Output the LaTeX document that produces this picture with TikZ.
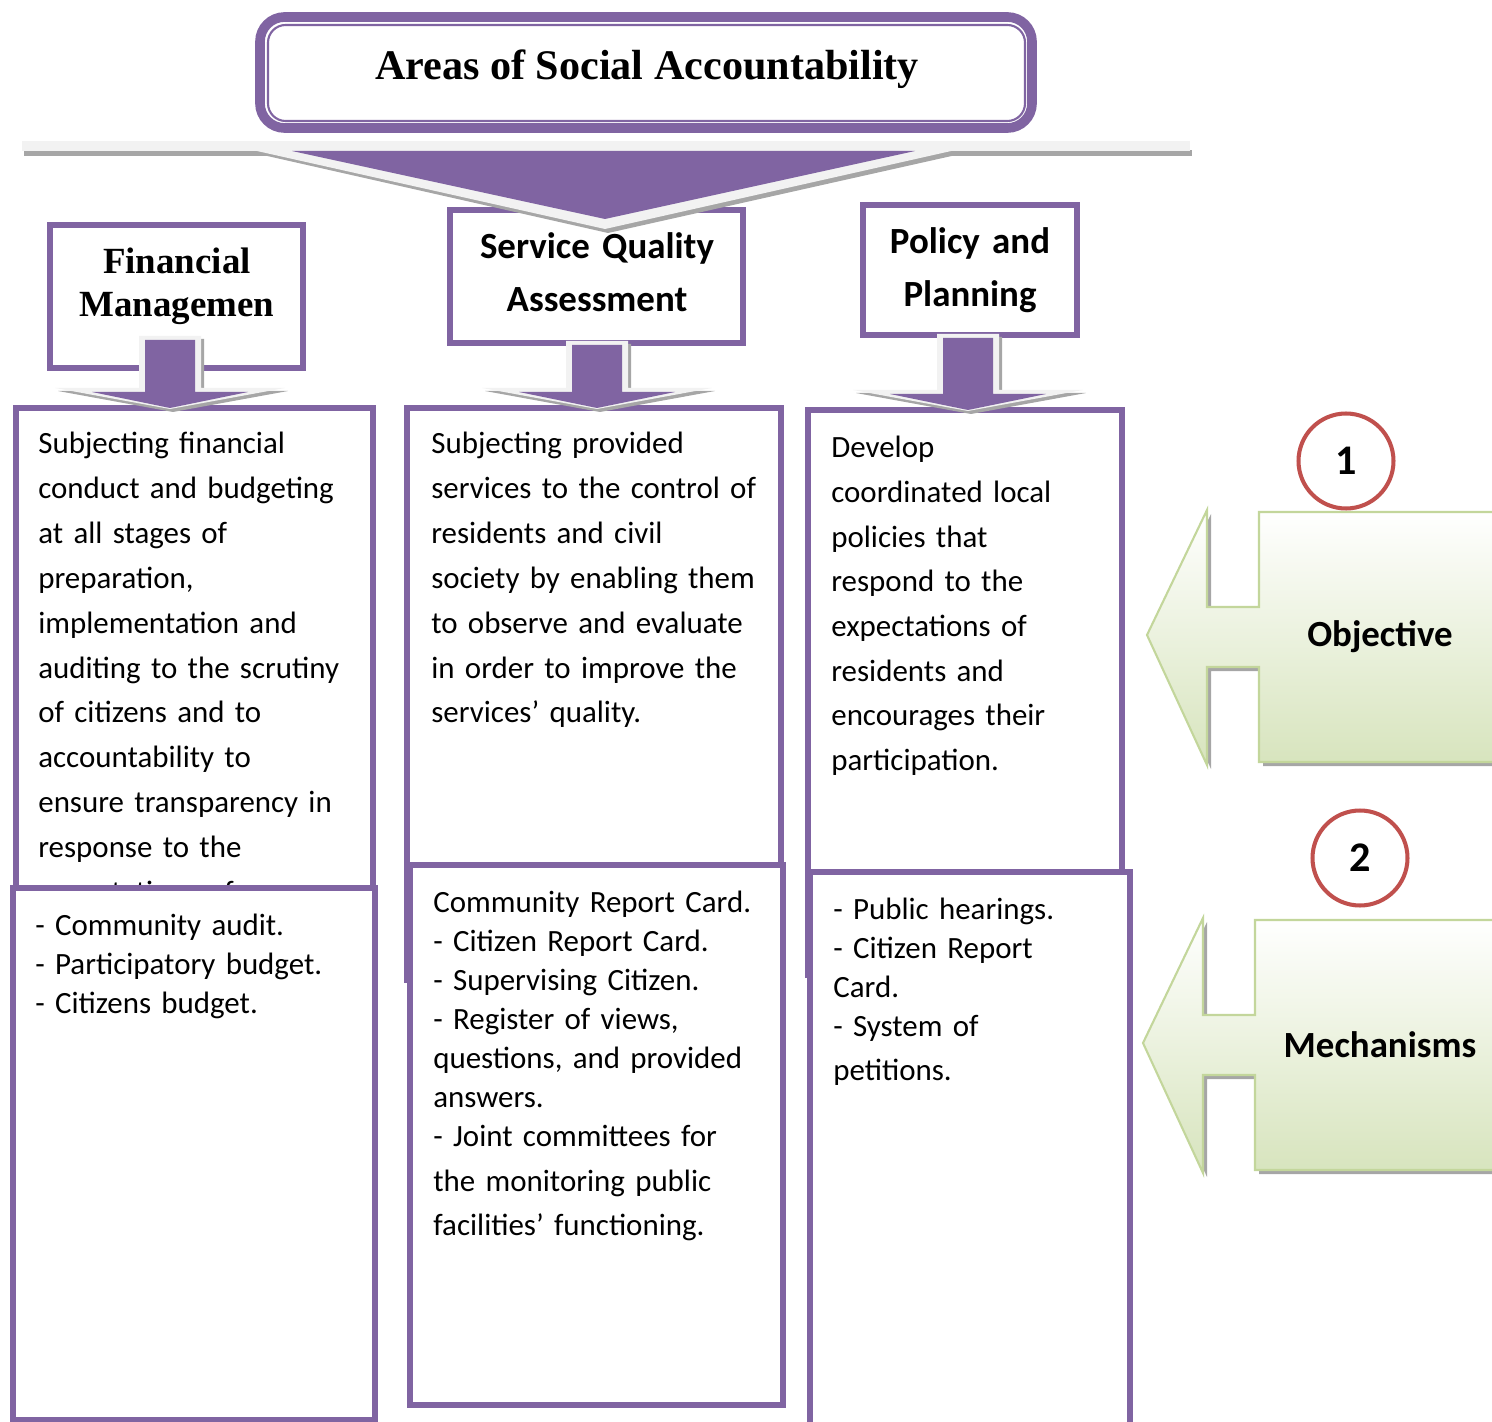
\documentclass[tikz,border=0pt]{standalone}
\usepackage{fontspec}
\setmainfont{Liberation Serif}
\newfontfamily\carlito{Carlito}
\usetikzlibrary{fit}

\definecolor{sapurple}{HTML}{8064A2}
\definecolor{sared}{HTML}{C0504D}
\definecolor{sagreen}{HTML}{C3D69B}
\definecolor{sagreenfill}{HTML}{D7E4BD}
\definecolor{sagray}{HTML}{F2F2F2}
\definecolor{sashadow}{HTML}{A6A6A6}

\begin{document}
\begin{tikzpicture}[x=0.02cm, y=-0.02cm,
  areabox/.style={draw=sapurple, line width=3pt, fill=white, inner sep=0pt},
  headserif/.style={font=\bfseries\fontsize{21}{24.4}\selectfont, text width=6cm, align=center, anchor=base, inner sep=0pt},
  headsans/.style={font=\carlito\bfseries\fontsize{21}{30}\selectfont, text width=6cm, align=center, anchor=base, inner sep=0pt},
  bodytxt/.style={font=\carlito\fontsize{17.6}{25.5}\selectfont, text width=7cm, align=left, anchor=base west, inner sep=0pt},
  mechtxt/.style={bodytxt, font=\carlito\fontsize{17.6}{22.2}\selectfont},
  numcircle/.style={circle, draw=sared, line width=2.3pt, fill=white, minimum size=1.9cm, inner sep=0pt, font=\carlito\bfseries\fontsize{24}{28}\selectfont},
  flaglabel/.style={font=\carlito\bfseries\fontsize{21}{25}\selectfont},
  flagface/.style={draw=sagreen, line width=1.2pt, top color=white, bottom color=sagreenfill}
]
\useasboundingbox (0,0) rectangle (1492,1422);

% title
\node[fit={(260,17)(1032,128)}, inner sep=0pt, draw=sapurple, line width=5.5pt, rounded corners=14pt, fill=white] (titlebox) {};
\draw[sapurple, line width=1.2pt, rounded corners=10pt] (268,25) rectangle (1025,121);
\node[font=\bfseries\fontsize{24}{28}\selectfont, anchor=base] (titletxt) at (647,80) {Areas of Social Accountability};

% headers
\node[areabox, fit={(50,225)(303,368)}] (finhead) {};
\node[headserif] (fintxt) at (177,274) {Financial\\Managemen};
\node[areabox, fit={(450,210)(743,343)}] (sqahead) {};
\node[headsans] (sqatxt) at (597,259) {Service Quality\\Assessment};
\node[areabox, fit={(863,205)(1077,335)}] (pphead) {};
\node[headsans] (pptxt) at (970,254) {Policy and\\Planning};

% bar and big chevron
\fill[sashadow] (24,150) rectangle (1192,156);
\fill[sagray] (22,141) rectangle (1190,151);
\fill[sashadow] (254,153) -- (608,233) -- (965,153) -- cycle;
\fill[sagray] (248,149) -- (605,229) -- (960,149) -- cycle;
\fill[sapurple] (292,151) -- (605,219) -- (915,151) -- cycle;

% objective boxes
\node[areabox, fit={(16,408)(373,890)}] (finobj) {};
\node[bodytxt] (finobjtxt) at (38,454) {Subjecting financial\\conduct and budgeting\\at all stages of\\preparation,\\implementation and\\auditing to the scrutiny\\of citizens and to\\accountability to\\ensure transparency in\\response to the\\expectations of};
\node[areabox, fit={(407,408)(781,980)}] (sqaobj) {};
\node[bodytxt] (sqaobjtxt) at (431,454) {Subjecting provided\\services to the control of\\residents and civil\\society by enabling them\\to observe and evaluate\\in order to improve the\\services’ quality.};
\node[areabox, fit={(808,410)(1122,975)}] (ppobj) {};
\node[bodytxt, font=\carlito\fontsize{17.6}{25.4}\selectfont] (ppobjtxt) at (831,458) {Develop\\coordinated local\\policies that\\respond to the\\expectations of\\residents and\\encourages their\\participation.};

% small arrows
\foreach \cx/\ya/\yt in {170/336/408, 597/341/408, 968/334/410}{
  \fill[sashadow] (\cx-28,\ya+3) -- (\cx+34,\ya+3) -- (\cx+34,\yt-17) -- (\cx+118,\yt-17) -- (\cx+3,\yt+4) -- (\cx-112,\yt-17) -- (\cx-28,\yt-17) -- cycle;
  \fill[sagray] (\cx-31,\ya) -- (\cx+31,\ya) -- (\cx+31,\yt-20) -- (\cx+115,\yt-20) -- (\cx,\yt+1) -- (\cx-115,\yt-20) -- (\cx-31,\yt-20) -- cycle;
  \fill[sapurple] (\cx-25,\ya+4) -- (\cx+25,\ya+4) -- (\cx+25,\yt-16) -- (\cx+78,\yt-16) -- (\cx,\yt) -- (\cx-78,\yt-16) -- (\cx-25,\yt-16) -- cycle;
}

% mechanism boxes
\node[areabox, fit={(13,888)(375,1420)}] (finmech) {};
\node[mechtxt] (finmechtxt) at (35,935) {- Community audit.\\- Participatory budget.\\- Citizens budget.};
\node[areabox, fit={(410,865)(783,1405)}] (sqamech) {};
\node[mechtxt] (sqamechtxt) at (433,912) {Community Report Card.\\- Citizen Report Card.\\- Supervising Citizen.\\- Register of views,\\questions, and provided\\answers.\\- Joint committees for\\[3.4pt]the monitoring public\\[3pt]facilities’ functioning.};
\node[areabox, fit={(810,872)(1130,1440)}] (ppmech) {};
\node[mechtxt] (ppmechtxt) at (833,919) {- Public hearings.\\- Citizen Report\\Card.\\- System of\\[3.4pt]petitions.};

% side flags
\foreach \k/\sx/\sy/\lbl/\lx/\cx/\cy/\n in {obj/0/0/Objective/1380/1346/461/1, mech/-4/408/Mechanisms/1384/1364/450/2}{
  \begin{scope}[shift={(\sx,\sy)}]
    \fill[sashadow] (1151,639) -- (1211,514) -- (1211,611) -- (1263,611) -- (1263,516) -- (1504,516) -- (1504,766) -- (1263,766) -- (1263,671) -- (1211,671) -- (1211,769) -- cycle;
    \path[flagface] (1147,635) -- (1207,510) -- (1207,607) -- (1259,607) -- (1259,512) -- (1500,512) -- (1500,762) -- (1259,762) -- (1259,667) -- (1207,667) -- (1207,765) -- cycle;
    \node[flaglabel] (\k-label) at (\lx,637) {\lbl};
    \node[numcircle] (\k-num) at (\cx,\cy) {\n};
  \end{scope}
}
\end{tikzpicture}
\end{document}
